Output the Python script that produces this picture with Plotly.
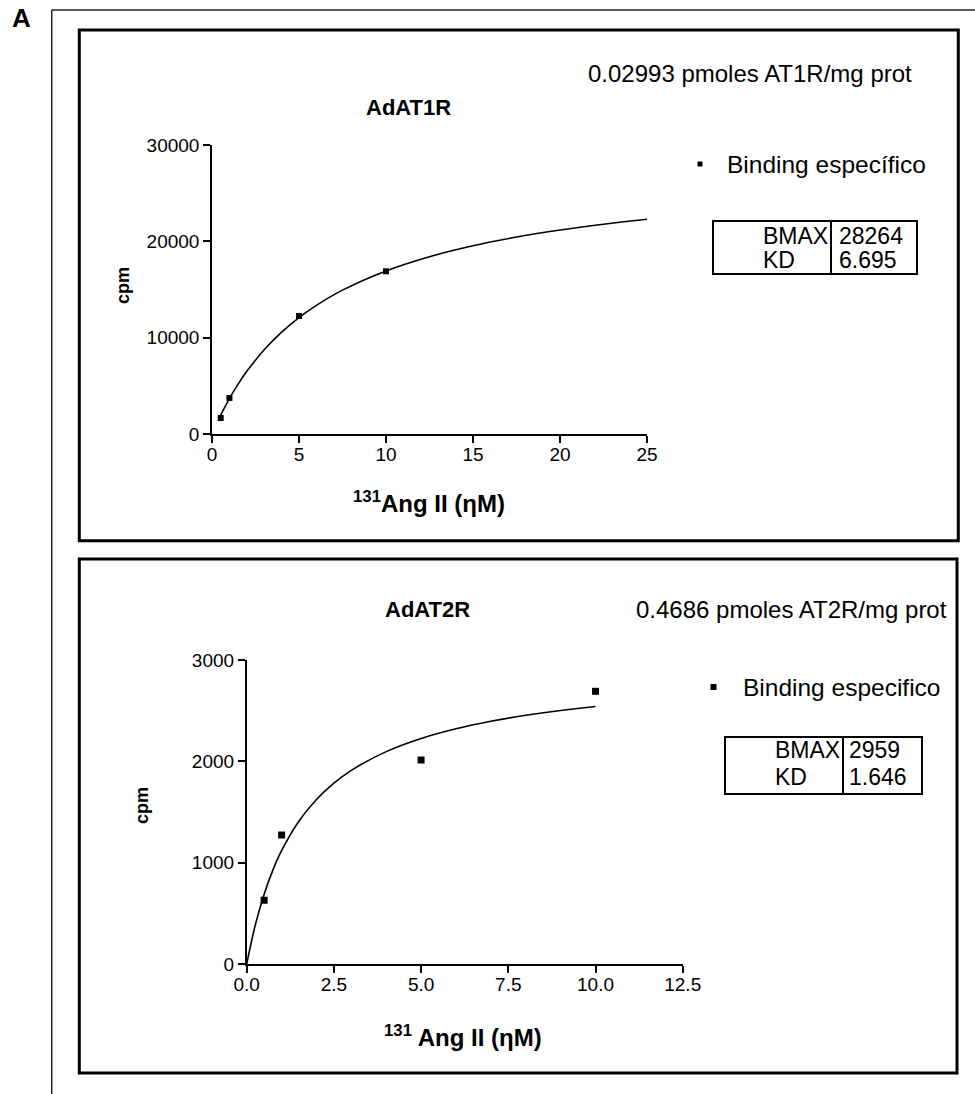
import plotly.graph_objects as go

W, H = 975, 1094

# ---------------- data ----------------
top_conc = [0.5, 1, 5, 10]
top_cpm = [1660, 3740, 12250, 16890]
top_fit_x = [0.5, 1, 1.5, 2, 3, 4, 5, 6, 7.5, 10, 12.5, 15, 17.5, 20, 22.5, 25]
top_fit_y = [1964, 3673, 5175, 6505, 8746, 10571, 12090, 13358, 14934, 16930,
             18406, 19542, 20443, 21176, 21782, 22293]
top_xticks = [0, 5, 10, 15, 20, 25]
top_yticks = [0, 10000, 20000, 30000]

bot_conc = [0.5, 1, 5, 10]
bot_cpm = [629, 1273, 2013, 2691]
bot_fit_x = [0, 0.25, 0.5, 0.75, 1, 1.5, 2, 2.5, 3, 4, 5, 6, 7, 8, 9, 10]
bot_fit_y = [0, 390, 689, 926, 1118, 1411, 1623, 1784, 1911, 2096, 2226,
             2322, 2396, 2454, 2502, 2541]
bot_xticks = [0, 2.5, 5, 7.5, 10, 12.5]
bot_yticks = [0, 1000, 2000, 3000]

top_table = [["BMAX", "28264"], ["KD", "6.695"]]
bot_table = [["BMAX", "2959"], ["KD", "1.646"]]

FONT = "Arial, Liberation Sans, sans-serif"


def px(x):
    return x / W


def py(y):
    return 1 - y / H


fig = go.Figure()

# ---------------- traces ----------------
fig.add_trace(go.Scatter(x=top_fit_x, y=top_fit_y, mode="lines",
                         line=dict(color="black", width=1.6, shape="spline"),
                         xaxis="x", yaxis="y", showlegend=False, hoverinfo="skip"))
fig.add_trace(go.Scatter(x=top_conc, y=top_cpm, mode="markers",
                         marker=dict(symbol="square", size=6, color="black"),
                         xaxis="x", yaxis="y", showlegend=False, cliponaxis=False))
fig.add_trace(go.Scatter(x=bot_fit_x, y=bot_fit_y, mode="lines",
                         line=dict(color="black", width=1.6, shape="spline"),
                         xaxis="x2", yaxis="y2", showlegend=False, hoverinfo="skip"))
fig.add_trace(go.Scatter(x=bot_conc, y=bot_cpm, mode="markers",
                         marker=dict(symbol="square", size=7, color="black"),
                         xaxis="x2", yaxis="y2", showlegend=False, cliponaxis=False))

axis_common = dict(showline=True, linecolor="black", linewidth=1.5,
                   ticks="outside", ticklen=7, tickwidth=1.5, tickcolor="black",
                   showgrid=False, zeroline=False, automargin=False,
                   tickfont=dict(family=FONT, size=19, color="black"))

fig.update_layout(
    width=W, height=H, autosize=False,
    margin=dict(l=0, r=0, t=0, b=0, pad=0, autoexpand=False),
    paper_bgcolor="white", plot_bgcolor="white",
    showlegend=False,
    xaxis=dict(domain=[px(212), px(647)], range=[0, 25], anchor="y",
               tickvals=top_xticks, ticktext=[str(v) for v in top_xticks],
               ticklabelstandoff=-5, **axis_common),
    yaxis=dict(domain=[py(434), py(145)], range=[0, 30000], anchor="x",
               tickvals=top_yticks, ticktext=[str(v) for v in top_yticks],
               ticklabelstandoff=0, **axis_common),
    xaxis2=dict(domain=[px(246.7), px(682.7)], range=[0, 12.5], anchor="y2",
                tickvals=bot_xticks, ticktext=[f"{v:.1f}" for v in bot_xticks],
                ticklabelstandoff=-5, **axis_common),
    yaxis2=dict(domain=[py(964), py(660)], range=[0, 3000], anchor="x2",
                tickvals=bot_yticks, ticktext=[str(v) for v in bot_yticks],
                ticklabelstandoff=0, **axis_common),
)

shapes = []
annots = []

# outer frame (left + top)
shapes.append(dict(type="line", xref="paper", yref="paper",
                   x0=px(51.7), y0=py(1094), x1=px(51.7), y1=py(10),
                   line=dict(color="#222", width=1.5)))
shapes.append(dict(type="line", xref="paper", yref="paper",
                   x0=px(51.7), y0=py(10), x1=px(975), y1=py(10),
                   line=dict(color="#222", width=1.5)))
# panel boxes
shapes.append(dict(type="rect", xref="paper", yref="paper",
                   x0=px(79.3), y0=py(540.7), x1=px(958.3), y1=py(30),
                   line=dict(color="black", width=3)))
shapes.append(dict(type="rect", xref="paper", yref="paper",
                   x0=px(79.3), y0=py(1073), x1=px(957), y1=py(559),
                   line=dict(color="black", width=3)))


def text(x, y, s, size, bold=False, xanchor="center", angle=0):
    annots.append(dict(x=px(x), y=py(y), xref="paper", yref="paper",
                       text=f"<b>{s}</b>" if bold else s, showarrow=False,
                       xanchor=xanchor, yanchor="middle", textangle=angle,
                       font=dict(family=FONT, size=size, color="black")))


# panel label
text(21, 18, "A", 26, bold=True)

# ---- top panel ----
text(750, 73, "0.02993 pmoles AT1R/mg prot", 24)
text(408, 107, "AdAT1R", 22, bold=True)
text(123, 285, "cpm", 18, bold=True, angle=-90)
text(429, 502, "<sup>131</sup>Ang II (ηM)", 24, bold=True)
# legend
shapes.append(dict(type="rect", xref="paper", yref="paper",
                   x0=px(697.5), y0=py(166.5), x1=px(702.5), y1=py(161.5),
                   fillcolor="black", line=dict(width=0)))
text(725, 164, "Binding específico", 24.5, xanchor="left")
# table
shapes.append(dict(type="rect", xref="paper", yref="paper",
                   x0=px(713), y0=py(274), x1=px(917), y1=py(221),
                   line=dict(color="black", width=2)))
shapes.append(dict(type="line", xref="paper", yref="paper",
                   x0=px(831), y0=py(274), x1=px(831), y1=py(221),
                   line=dict(color="black", width=2)))
for (lab, val), yy in zip(top_table, [236, 260]):
    text(761, yy, lab, 23, xanchor="left")
    text(837, yy, val, 23, xanchor="left")

# ---- bottom panel ----
text(791, 610, "0.4686 pmoles AT2R/mg prot", 24)
text(427, 610, "AdAT2R", 22, bold=True)
text(142, 806, "cpm", 18, bold=True, angle=-90)
text(463, 1036, "<sup>131</sup> Ang II (ηM)", 24, bold=True)
shapes.append(dict(type="rect", xref="paper", yref="paper",
                   x0=px(710.5), y0=py(690), x1=px(716.5), y1=py(684),
                   fillcolor="black", line=dict(width=0)))
text(741, 687, "Binding especifico", 24.5, xanchor="left")
shapes.append(dict(type="rect", xref="paper", yref="paper",
                   x0=px(725), y0=py(794), x1=px(922), y1=py(737),
                   line=dict(color="black", width=2)))
shapes.append(dict(type="line", xref="paper", yref="paper",
                   x0=px(843), y0=py(794), x1=px(843), y1=py(737),
                   line=dict(color="black", width=2)))
for (lab, val), yy in zip(bot_table, [750, 777]):
    text(773, yy, lab, 23, xanchor="left")
    text(847, yy, val, 23, xanchor="left")

fig.update_layout(shapes=shapes, annotations=annots)

fig.write_html("out.html",
               config={"displayModeBar": False},
               post_script="document.body.style.margin='0';document.body.style.overflow='hidden';")
